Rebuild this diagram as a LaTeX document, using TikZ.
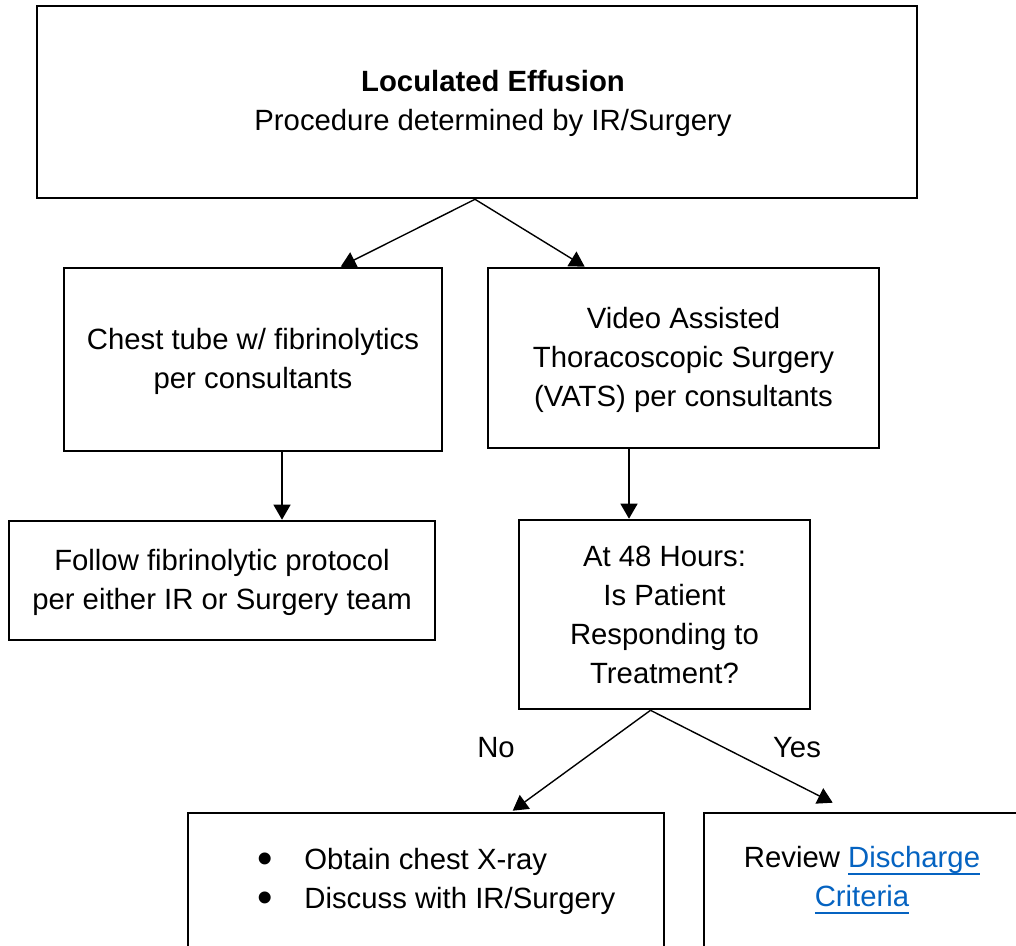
\documentclass[tikz,border=0pt]{standalone}
\usepackage{fontspec}
\setmainfont{Liberation Sans}
\usepackage{xcolor}
\usetikzlibrary{arrows.meta,positioning}
\definecolor{linkblue}{HTML}{0563C1}
\newcommand{\hlink}[1]{\textcolor{linkblue}{\setbox0\hbox{#1}\rlap{\rule[-3.8pt]{\wd0}{1.4pt}}\box0}}
\newcommand{\bitem}[1]{\makebox[23.5pt][l]{\raisebox{-0.16em}{\scalebox{1.5}{\textbullet}}}#1}
\newcommand{\hstrut}{\rule{0pt}{12.8pt}}

\begin{document}
\begin{tikzpicture}[x=0.5pt,y=-0.5pt,>={Triangle[width=8.5pt,length=7.5pt]},font=\fontsize{14.65pt}{19.5pt}\selectfont]
		\tikzstyle{box}=[rectangle, draw=black, line width=1.3pt, inner sep=0pt, align=center]
		\tikzstyle{arr}=[->, line width=0.7pt]
		\tikzstyle{lbl}=[inner sep=0pt, align=center]

		\clip (0,0) rectangle (1016,946);

		% boxes
		\node [box, minimum width=440pt, minimum height=96pt] (top) at (477,102) {};
		\node [lbl] (toptext) at (493,103) {\textbf{Loculated Effusion}\\Procedure determined by IR/Surgery};
		\node [box, minimum width=189pt, minimum height=91.5pt] (chest) at (253,359.5) {\hstrut Chest tube w/ fibrinolytics\\per consultants};
		\node [box, minimum width=195.5pt, minimum height=90pt] (vats) at (683.5,358) {\hstrut Video Assisted\\Thoracoscopic Surgery\\(VATS) per consultants};
		\node [box, minimum width=213pt, minimum height=59.5pt] (follow) at (222,580.5) {\hstrut Follow fibrinolytic protocol\\per either IR or Surgery team};
		\node [box, minimum width=145.5pt, minimum height=94.5pt] (resp) at (664.5,614.5) {At 48 Hours:\\Is Patient\\Responding to\\Treatment?};
		\node [box, minimum width=238pt, minimum height=100pt] (xray) at (426,913) {};
		\node [box, minimum width=163pt, minimum height=100pt] (review) at (867,913) {};
		\node [lbl, anchor=west, align=left] (xraytext) at (257,881) {\bitem{Obtain chest X-ray}\\\bitem{Discuss with IR/Surgery}};
		\node [lbl] (reviewtext) at (862,880.5) {Review \hlink{Discharge}\\\hlink{Criteria}};

		% answers
		\node [lbl] (no) at (496,748) {No};
		\node [lbl] (yes) at (797,748) {Yes};

		% connectors
		\draw [arr] ([xshift=-1pt]top.south) -- ([xshift=139pt]chest.north west);
		\draw [arr] ([xshift=-1pt]top.south) -- ([xshift=49pt]vats.north west);
		\draw [arr] ([xshift=14.5pt]chest.south) coordinate (cs) -- (cs |- follow.north);
		\draw [arr] ([xshift=-27.25pt]vats.south) coordinate (vs) -- (vs |- resp.north);
		\draw [arr] ([xshift=-7pt]resp.south) -- ([xshift=163pt,yshift=0.5pt]xray.north west);
		\draw [arr] ([xshift=-7pt]resp.south) -- ([xshift=65pt,yshift=4.5pt]review.north west);
	\end{tikzpicture}
\end{document}
